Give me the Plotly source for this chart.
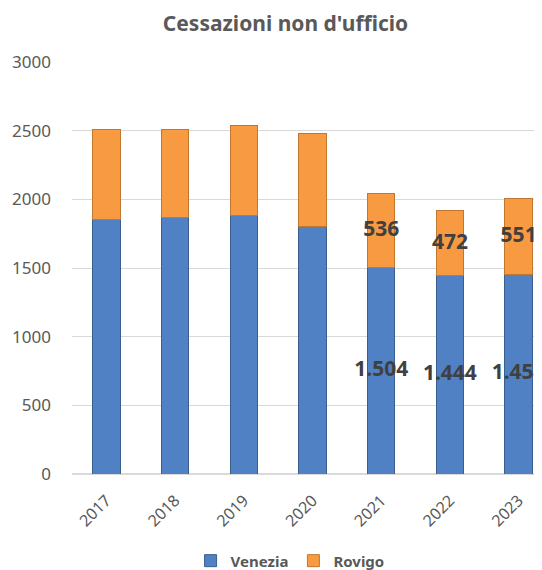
import plotly.graph_objects as go

# data
years = ["2017", "2018", "2019", "2020", "2021", "2022", "2023"]
venezia = [1850, 1865, 1880, 1805, 1504, 1444, 1454]
rovigo = [660, 645, 655, 675, 536, 472, 551]
venezia_labels = ["", "", "", "", "1.504", "1.444", "1.454"]
rovigo_labels = ["", "", "", "", "536", "472", "551"]

blue = "#4f81c4"
orange = "#f79a42"
grey = "#595959"

fig = go.Figure()
fig.add_bar(x=years, y=venezia, name="<b>Venezia</b>", width=0.4,
            marker=dict(color=blue, line=dict(color="#3a5f8f", width=1)))
fig.add_bar(x=years, y=rovigo, name="<b>Rovigo</b>", width=0.4,
            marker=dict(color=orange, line=dict(color="#c0772f", width=1)))

# labels centred in each segment, allowed to spill over the bar
lab_x = [y for y, t in zip(years, venezia_labels) if t]
lab_font = dict(size=21, color="#404040", family="Noto Sans")
fig.add_scatter(x=lab_x, y=[v / 2 for v, t in zip(venezia, venezia_labels) if t],
                text=["<b>" + t + "</b>" for t in venezia_labels if t], mode="text",
                showlegend=False, textfont=lab_font, hoverinfo="skip", cliponaxis=False)
fig.add_scatter(x=lab_x, y=[v + r / 2 for v, r, t in zip(venezia, rovigo, rovigo_labels) if t],
                text=["<b>" + t + "</b>" for t in rovigo_labels if t], mode="text",
                showlegend=False, textfont=lab_font, hoverinfo="skip", cliponaxis=False)

# the page body adds an 8px offset, margins compensate for it
fig.update_layout(
    barmode="stack",
    width=542, height=570,
    margin=dict(l=64, r=8, t=54, b=104),
    plot_bgcolor="white", paper_bgcolor="white",
    font=dict(family="Noto Sans", color=grey, size=16),
    title=dict(text="<b>Cessazioni non d'ufficio</b>", x=0.512, xanchor="center",
               y=0.972, yanchor="middle", font=dict(size=21, color=grey)),
    legend=dict(orientation="h", x=0.464, xanchor="center", yref="container",
                y=0.03, yanchor="middle", font=dict(size=15, color=grey),
                traceorder="normal"),
    bargap=0.6,
)
fig.update_xaxes(type="category", range=[-0.5, 6.34], tickangle=-45, automargin=False,
                 showline=False, ticks="", tickfont=dict(size=16, color=grey),
                 ticklabelstandoff=13)
fig.update_yaxes(range=[0, 3000], dtick=500, gridcolor="#d9d9d9", gridwidth=1, automargin=False,
                 zeroline=True, zerolinecolor="#d9d9d9", ticks="", ticklen=0,
                 tickfont=dict(size=17, color=grey), ticklabelstandoff=20)

fig.write_html("out.html")
